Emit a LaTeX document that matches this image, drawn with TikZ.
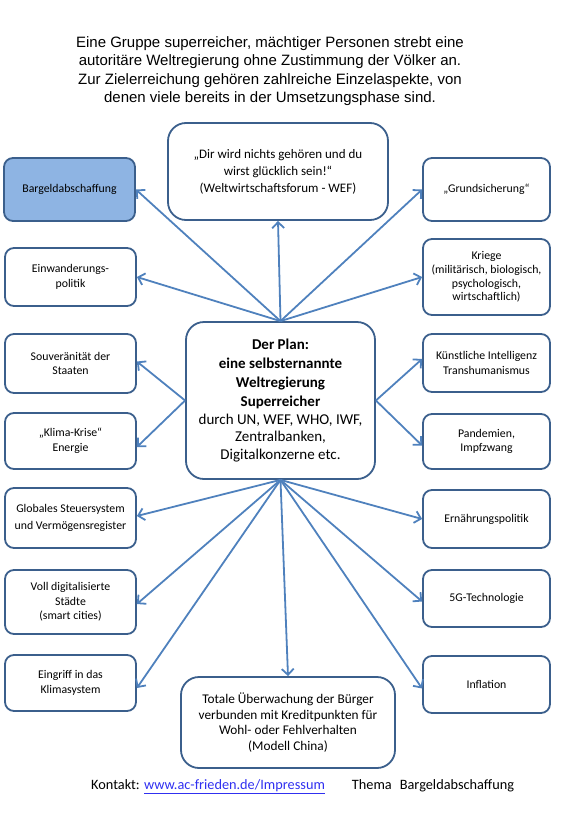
\documentclass[tikz,border=0pt]{standalone}
\usepackage{fontspec}
\setmainfont{Carlito}
\newfontfamily\arialfont{Liberation Sans}
\usetikzlibrary{shapes,arrows.meta}
\definecolor{rand}{HTML}{3B5F8C}
\definecolor{pfeil}{HTML}{4F81BD}
\definecolor{fuell}{HTML}{8EB4E3}
\definecolor{linkblau}{HTML}{3030F0}
\tikzstyle{block} = [rectangle, draw=rand, line width=1.8pt, rounded corners=9pt, align=center, inner sep=2pt, font=\fontsize{11.8}{14.5}\selectfont]
\tikzstyle{links} = [block, minimum width=131pt]
\tikzstyle{rechts} = [block, minimum width=127pt]
\tikzstyle{gross} = [block, rounded corners=18pt]
\tikzstyle{line} = [draw=pfeil, line width=1.8pt, -{Straight Barb[length=6pt,width=12pt]}]

\begin{document}
\begin{tikzpicture}[x=1pt, y=-1pt]
   \useasboundingbox (0,0) rectangle (560,819);
   \node[font=\arialfont\fontsize{15}{18.4}\selectfont, align=center] (titel) at (270,71)
      {Eine Gruppe superreicher, mächtiger Personen strebt eine\\autoritäre Weltregierung ohne Zustimmung der Völker an.\\Zur Zielerreichung gehören zahlreiche Einzelaspekte, von\\denen viele bereits in der Umsetzungsphase sind.};
   % Mitte
   \node[gross, minimum width=189pt, minimum height=157pt, font=\fontsize{15}{17.5}\selectfont] (plan) at (280.5,400.5)
      {\textbf{Der Plan:}\\[1.5pt]\textbf{eine selbsternannte}\\[1.5pt]\textbf{Weltregierung}\\[1.5pt]\textbf{Superreicher}\\durch UN, WEF, WHO, IWF,\\Zentralbanken,\\Digitalkonzerne etc.};
   \node[gross, minimum width=220pt, minimum height=97pt, font=\fontsize{13}{17}\selectfont] (wef) at (278,171.5)
      {„Dir wird nichts gehören und du\\wirst glücklich sein!“\\(Weltwirtschaftsforum - WEF)};
   \node[gross, minimum width=214pt, minimum height=91pt, font=\fontsize{13.3}{15.5}\selectfont] (ueberw) at (288,722.5)
      {Totale Überwachung der Bürger\\verbunden mit Kreditpunkten für\\Wohl- oder Fehlverhalten\\(Modell China)};
   % linke Spalte
   \node[links, fill=fuell, minimum height=63pt] (bargeld) at (69.5,189.5) {Bargeldabschaffung};
   \node[links, minimum height=58pt] (einw) at (70.5,277) {Einwanderungs-\\politik};
   \node[links, minimum height=59pt] (souv) at (70.5,363.5) {Souveränität der\\Staaten};
   \node[links, minimum height=56pt] (klima) at (70.5,441) {„Klima-Krise“\\Energie};
   \node[links, minimum height=60pt, font=\fontsize{11.8}{17}\selectfont] (steuer) at (70.5,518) {Globales Steuersystem\\und Vermögensregister};
   \node[links, minimum height=64pt] (staedte) at (70.5,602) {Voll digitalisierte\\Städte\\(smart cities)};
   \node[links, minimum height=56pt] (eingriff) at (70.5,683) {Eingriff in das\\Klimasystem};
   % rechte Spalte
   \node[rechts, minimum height=63pt] (grund) at (486.5,189.5) {„Grundsicherung“};
   \node[rechts, minimum height=76pt, font=\fontsize{11.8}{13.8}\selectfont] (kriege) at (486.5,277) {Kriege\\(militärisch, biologisch,\\psychologisch,\\wirtschaftlich)};
   \node[rechts, minimum height=58pt] (ki) at (486.5,363) {Künstliche Intelligenz\\Transhumanismus};
   \node[rechts, minimum height=55pt] (pand) at (486.5,441.5) {Pandemien,\\Impfzwang};
   \node[rechts, minimum height=58pt] (ernaehr) at (486.5,519) {Ernährungspolitik};
   \node[rechts, minimum height=57pt] (fuenfg) at (486.5,598.5) {5G-Technologie};
   \node[rechts, minimum height=57pt] (infl) at (486.5,684.5) {Inflation};
   % Fusszeile
   \node[font=\fontsize{14.3}{16}\selectfont, anchor=west, inner sep=0pt] (kontakt) at (91,787)
      {Kontakt: \textcolor{linkblau}{\underline{www.ac-frieden.de/Impressum}}\hspace{27pt}Thema\hspace{8pt}Bargeldabschaffung};
   \draw[line] (plan.north) -- (bargeld.east);
   \draw[line] (plan.north) -- (einw.east);
   \draw[line] (plan.north) -- (wef.south);
   \draw[line] (plan.north) -- (grund.west);
   \draw[line] (plan.north) -- (kriege.west);
   \draw[line] (plan.west) -- ([yshift=2pt]souv.east);
   \draw[line] (plan.west) -- ([yshift=-6pt]klima.east);
   \draw[line] (plan.east) -- ([yshift=4pt]ki.west);
   \draw[line] (plan.east) -- ([yshift=-4pt]pand.west);
   \draw[line] (plan.south) -- ([yshift=2pt]steuer.east);
   \draw[line] (plan.south) -- ([yshift=-2pt]staedte.east);
   \draw[line] (plan.south) -- ([yshift=-5pt]eingriff.east);
   \draw[line] (plan.south) -- (ueberw.north);
   \draw[line] (plan.south) -- (ernaehr.west);
   \draw[line] (plan.south) -- ([yshift=-3pt]fuenfg.west);
   \draw[line] (plan.south) -- ([yshift=-4pt]infl.west);
\end{tikzpicture}
\end{document}
